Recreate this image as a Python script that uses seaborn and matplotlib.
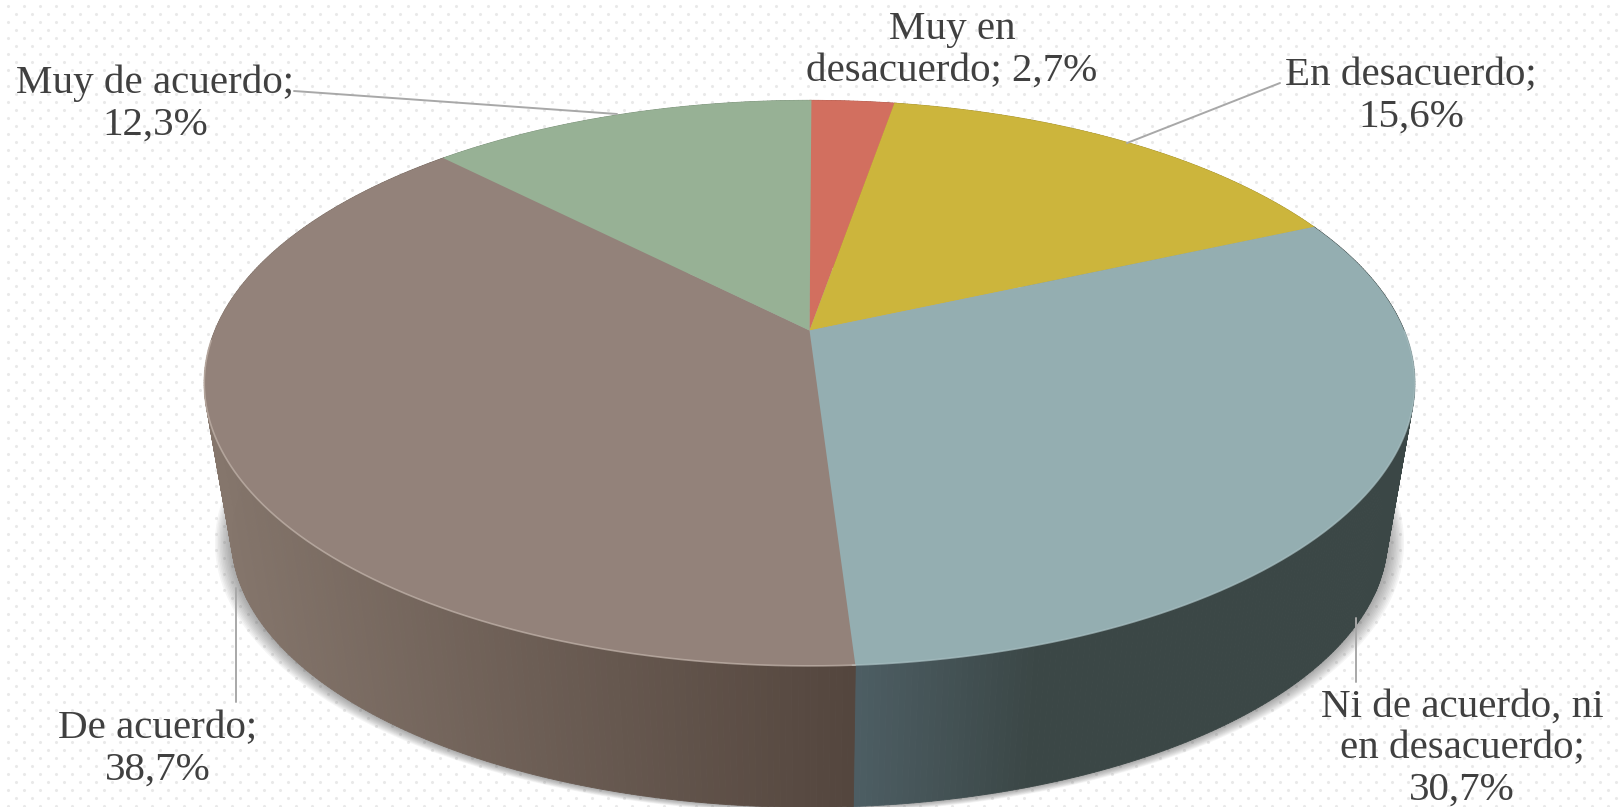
import matplotlib.pyplot as plt
import numpy as np
import seaborn as sns
from matplotlib.collections import PolyCollection
from matplotlib.colors import to_rgb

# Data
categories = ["Muy en\ndesacuerdo", "En desacuerdo", "Ni de acuerdo, ni\nen desacuerdo", "De acuerdo", "Muy de acuerdo"]
values = [2.7, 15.6, 30.7, 38.7, 12.3]
top_colors = ["#d26f5f", "#ccb53c", "#94aeb1", "#93827a", "#97b195"]
side_left = ["#b05a4c", "#a8942f", "#4e5f65", "#85766c", "#7c927a"]
side_right = ["#b05a4c", "#a8942f", "#3b4746", "#54463e", "#7c927a"]

# Label centres (x, y) and leader lines, in pixels
label_pos = [(952, 50), (1411, 96), (1462, 749), (158, 749), (155, 104)]
leaders = [None, [(1280, 83), (1127, 143)], [(1356, 618), (1356, 682)],
           [(236, 588), (236, 702)], [(294, 91), (617, 114)]]

# Pie geometry in pixels: perspective view of a disc
CX, CY = 809.5, 330.5
RX, RY, K = 594.7, 273.0, 0.186
LOWER_SCALE, LOWER_Y = 0.955, 487.0

sns.set_theme(style="white")
plt.rcParams["font.family"] = ["Liberation Serif", "DejaVu Serif"]
palette = sns.color_palette(top_colors)


def rim(deg, scale=1.0, cy=CY):
    t = np.radians(deg)
    w = 1 + K * np.cos(t)
    return CX + scale * RX * np.sin(t) / w, cy - scale * RY * np.cos(t) / w


def pct(v):
    return f"{v:.1f}".replace(".", ",") + "%"


fig, ax = plt.subplots(figsize=(16.19, 8.07), dpi=100)
fig.subplots_adjust(0, 0, 1, 1)
ax.set_xlim(0, 1619)
ax.set_ylim(807, 0)
ax.axis("off")

# Dotted background
gx, gy = np.meshgrid(np.arange(8, 1619, 16), np.arange(6, 807, 8))
gx = gx + 8 * (np.arange(gy.shape[0])[:, None] % 2)
ax.scatter(gx.ravel(), gy.ravel(), s=5, color="#e9e9e9", linewidths=0, zorder=0)

edges = np.concatenate([[0], np.cumsum(values)]) * 3.6

# Soft shadow below the side wall
theta = np.linspace(0, 360, 361)
for grow in np.arange(16, 0, -1.5):
    sx, sy = rim(theta, LOWER_SCALE, LOWER_Y)
    sx = CX + (sx - CX) * (1 + grow / 560)
    sy = sy + grow * 0.35
    ax.fill(sx, sy, color="#444444", alpha=0.05, lw=0, zorder=1)

# Side wall, strip by strip so the shading runs left to right
for i in range(len(values)):
    tt = np.arange(edges[i], edges[i + 1] + 0.5, 0.5)
    x0, y0 = rim(tt)
    x1, y1 = rim(tt, LOWER_SCALE, LOWER_Y)
    polys = [[(x0[j], y0[j]), (x0[j + 1], y0[j + 1]), (x1[j + 1], y1[j + 1]), (x1[j], y1[j])]
             for j in range(len(tt) - 1)]
    lo, hi = np.array(to_rgb(side_left[i])), np.array(to_rgb(side_right[i]))
    span = (x0 - x0.min()) / max(x0.max() - x0.min(), 1)
    if categories[i].startswith("Ni"):
        # blue wall: lightest next to the seam, then flat dark
        span = np.clip((x0 - x0.min()) / 190, 0, 1)
    cols = [lo + (hi - lo) * s for s in span[:-1]]
    ax.add_collection(PolyCollection(polys, facecolors=cols, edgecolors=cols, linewidths=0.6, zorder=2))

# Top face
for i in range(len(values)):
    tt = np.arange(edges[i], edges[i + 1] + 0.25, 0.25)
    x, y = rim(tt)
    ax.fill(np.r_[CX, x], np.r_[CY, y], color=palette[i], lw=0, zorder=3)
    if 90 < edges[i + 1] and edges[i] < 270:
        front = tt[(tt > 90) & (tt < 268)]
        ax.plot(*rim(front), color="#c4b6ad" if i == 3 else "#a9c0c3", lw=1.2, alpha=0.7, zorder=4)

# Leader lines and labels
for i in range(len(values)):
    if leaders[i] is not None:
        (x0, y0), (x1, y1) = leaders[i]
        ax.plot([x0, x1], [y0, y1], color="#a8a8a8", lw=1.4, zorder=5)
    sep = "; " if i == 0 else ";\n"
    ax.text(label_pos[i][0], label_pos[i][1], categories[i] + sep + pct(values[i]), ha="center", va="center",
            fontsize=29.5, color="#404040", linespacing=1.16, zorder=6)

fig.savefig("out.png", dpi=100)
